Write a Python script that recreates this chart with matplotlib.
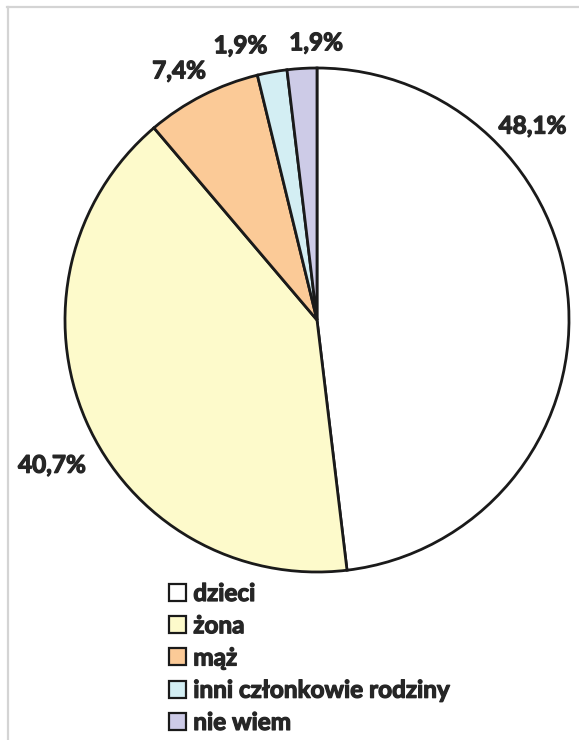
import numpy as np
import matplotlib.pyplot as plt
import matplotlib.patheffects as pe
from matplotlib.patches import Patch
from matplotlib.lines import Line2D

plt.rcParams['font.family'] = ['Lato', 'DejaVu Sans']

categories = ['dzieci', 'żona', 'mąż', 'inni członkowie rodziny', 'nie wiem']
values = [48.1, 40.7, 7.4, 1.9, 1.9]
value_labels = ['48,1%', '40,7%', '7,4%', '1,9%', '1,9%']
colors = ['#ffffff', '#fdfacb', '#fbca97', '#d3eef3', '#cdcbe7']

# label placement (angle in degrees, distance in radii) - Excel "best fit" style
label_pos = [(42, 1.15), (208.7, 1.2), (119, 1.13), (105.6, 1.13), (90.2, 1.10)]

txt_color = '#262626'
heavy = [pe.withStroke(linewidth=0.9, foreground=txt_color)]

W, H = 579, 740
fig = plt.figure(figsize=(W / 100, H / 100), dpi=100)

# pie centre ~ (317, 320) px, radius ~252 px
cx, cy, r = 317, 320, 252
ax = fig.add_axes([(cx - r) / W, (H - cy - r) / H, 2 * r / W, 2 * r / H])
ax.pie(values, colors=colors, startangle=90, counterclock=False,
       wedgeprops=dict(edgecolor='#1a1a1a', linewidth=2.0), radius=1)
ax.set_xlim(-1, 1)
ax.set_ylim(-1, 1)
ax.set_aspect('equal')
ax.axis('off')

for txt, (ang, dist) in zip(value_labels, label_pos):
    a = np.deg2rad(ang)
    ax.text(dist * np.cos(a), dist * np.sin(a), txt, ha='center', va='center',
            fontsize=17.5, fontweight='bold', color=txt_color, clip_on=False,
            path_effects=heavy)

handles = [Patch(facecolor=c, edgecolor='#1a1a1a', linewidth=1.6) for c in colors]
leg = fig.legend(handles, categories, loc='upper left',
                 bbox_to_anchor=(169 / W, 1 - 582 / H), frameon=False,
                 prop=dict(size=17.5, weight='bold'), handlelength=0.7,
                 handleheight=0.7, handletextpad=0.3, labelspacing=0.38,
                 borderpad=0, borderaxespad=0)
for t in leg.get_texts():
    t.set_color(txt_color)
    t.set_path_effects(heavy)

# outer frame (only top and left edges fall inside the picture)
fig.add_artist(Line2D([7 / W, 1], [1 - 7 / H, 1 - 7 / H], color='#d4d4d4', lw=1.6))
fig.add_artist(Line2D([8 / W, 8 / W], [1 - 7 / H, 0], color='#d4d4d4', lw=1.6))

fig.savefig('out.png', dpi=100)
